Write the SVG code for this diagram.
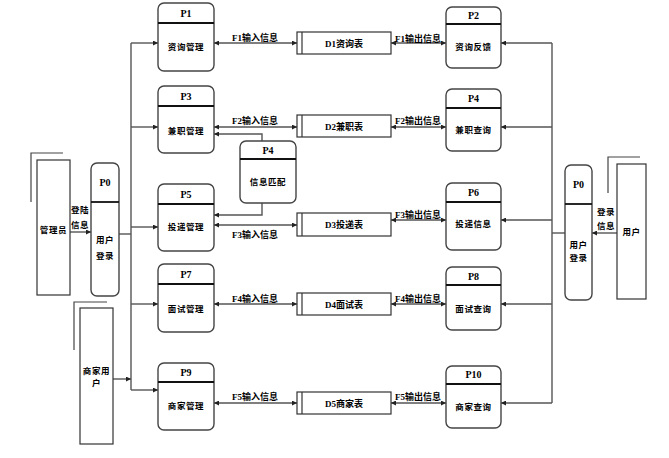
<svg xmlns="http://www.w3.org/2000/svg" width="669" height="458" viewBox="0 0 669 458">
<style>
.bg{fill:#fff}
.proc{fill:#fff;stroke:#444;stroke-width:1.4}
.hdr{stroke:#111;stroke-width:1.8}
.box{fill:#fff;stroke:#333;stroke-width:1.2}
.shadow{fill:none;stroke:#444;stroke-width:1.2}
.ln{fill:none;stroke:#555;stroke-width:1.4}
.pl{font-family:"Liberation Serif","Noto Serif CJK SC",serif;font-weight:bold;font-size:10px;fill:#000;text-anchor:middle}
.t{font-family:"Noto Sans CJK SC",sans-serif;font-weight:bold;font-size:8.5px;fill:#000;text-anchor:middle;letter-spacing:0.6px}
.f{font-family:"Liberation Serif","Noto Sans CJK SC",serif;font-weight:bold;font-size:9px;fill:#000;text-anchor:middle}
</style>
<defs>
<marker id="a" viewBox="0 0 6 6" refX="6" refY="3" markerWidth="5" markerHeight="5" orient="auto-start-reverse" markerUnits="userSpaceOnUse">
<path d="M0,0 L6,3 L0,6 z" fill="#222"/>
</marker>
</defs>
<rect class="bg" x="0" y="0" width="669" height="458"/>

<g id="connectors">
<!-- left trunk -->
<line class="ln" x1="131" y1="43" x2="131" y2="390"/>
<line class="ln" x1="119" y1="234" x2="131" y2="234"/>
<line class="ln" x1="131" y1="43" x2="158" y2="43" marker-end="url(#a)"/>
<line class="ln" x1="131" y1="127" x2="158" y2="127" marker-end="url(#a)"/>
<line class="ln" x1="131" y1="227" x2="158" y2="227" marker-end="url(#a)"/>
<line class="ln" x1="131" y1="304" x2="158" y2="304" marker-end="url(#a)"/>
<line class="ln" x1="131" y1="390" x2="158" y2="390" marker-end="url(#a)"/>
<line class="ln" x1="113" y1="379" x2="131" y2="379" marker-end="url(#a)"/>
<line class="ln" x1="70" y1="232" x2="91" y2="232" marker-end="url(#a)"/>
<!-- right trunk -->
<line class="ln" x1="552" y1="43" x2="552" y2="403"/>
<line class="ln" x1="552" y1="233" x2="565" y2="233"/>
<line class="ln" x1="552" y1="43" x2="501" y2="43" marker-end="url(#a)"/>
<line class="ln" x1="552" y1="127" x2="501" y2="127" marker-end="url(#a)"/>
<line class="ln" x1="552" y1="220" x2="501" y2="220" marker-end="url(#a)"/>
<line class="ln" x1="552" y1="304" x2="501" y2="304" marker-end="url(#a)"/>
<line class="ln" x1="552" y1="403" x2="501" y2="403" marker-end="url(#a)"/>
<line class="ln" x1="617" y1="233" x2="592" y2="233" marker-end="url(#a)"/>
<!-- process <-> store -->
<line class="ln" x1="214" y1="43" x2="297" y2="43" marker-start="url(#a)" marker-end="url(#a)"/>
<line class="ln" x1="391" y1="43" x2="446" y2="43" marker-start="url(#a)" marker-end="url(#a)"/>
<line class="ln" x1="214" y1="127" x2="297" y2="127" marker-start="url(#a)" marker-end="url(#a)"/>
<line class="ln" x1="391" y1="127" x2="446" y2="127" marker-start="url(#a)" marker-end="url(#a)"/>
<line class="ln" x1="214" y1="225" x2="297" y2="225" marker-start="url(#a)" marker-end="url(#a)"/>
<line class="ln" x1="391" y1="220" x2="446" y2="220" marker-start="url(#a)" marker-end="url(#a)"/>
<line class="ln" x1="214" y1="304" x2="297" y2="304" marker-start="url(#a)" marker-end="url(#a)"/>
<line class="ln" x1="391" y1="304" x2="446" y2="304" marker-start="url(#a)" marker-end="url(#a)"/>
<line class="ln" x1="214" y1="403" x2="297" y2="403" marker-start="url(#a)" marker-end="url(#a)"/>
<line class="ln" x1="391" y1="403" x2="446" y2="403" marker-start="url(#a)" marker-end="url(#a)"/>
<!-- P4 matching -->
<polyline class="ln" points="262,141 262,134 214,134" marker-end="url(#a)"/>
<polyline class="ln" points="262,203 262,215 214,215" marker-end="url(#a)"/>
<!-- labels -->
<text class="f" x="255" y="41">F1输入信息</text>
<text class="f" x="418" y="42">F1输出信息</text>
<text class="f" x="255" y="124">F2输入信息</text>
<text class="f" x="418" y="124">F2输出信息</text>
<text class="f" x="255" y="238">F3输入信息</text>
<text class="f" x="418" y="218">F3输出信息</text>
<text class="f" x="255" y="302">F4输入信息</text>
<text class="f" x="418" y="302">F4输出信息</text>
<text class="f" x="255" y="400">F5输入信息</text>
<text class="f" x="418" y="400">F5输出信息</text>
<text class="t" x="80" y="213">登陆</text>
<text class="t" x="80" y="228">信息</text>
<text class="t" x="606" y="215">登录</text>
<text class="t" x="606" y="229">信息</text>
</g>

<g id="admin">
<polyline class="shadow" points="31,202 31,153 63,153"/>
<rect class="box" x="37" y="160" width="33" height="135"/>
<text class="t" x="53.5" y="233">管理员</text>
</g>
<g id="merchant">
<polyline class="shadow" points="74,350 74,302 107,302"/>
<rect class="box" x="80" y="308" width="33" height="136"/>
<text class="t" x="96.5" y="374">商家用</text>
<text class="t" x="96.5" y="386">户</text>
</g>
<g id="user">
<polyline class="shadow" points="608,193 608,157 640,157"/>
<rect class="box" x="617" y="164" width="29" height="135"/>
<text class="t" x="631.5" y="235">用户</text>
</g>

<g id="P0L">
<rect class="proc" x="91" y="163" width="28" height="133" rx="6"/>
<line class="hdr" x1="91" y1="202" x2="119" y2="202"/>
<text class="pl" x="105" y="186">P0</text>
<text class="t" x="105" y="243">用户</text>
<text class="t" x="105" y="259">登录</text>
</g>
<g id="P0R">
<rect class="proc" x="565" y="165" width="27" height="135" rx="6"/>
<line class="hdr" x1="565" y1="204" x2="592" y2="204"/>
<text class="pl" x="578.5" y="188">P0</text>
<text class="t" x="578.5" y="248">用户</text>
<text class="t" x="578.5" y="261">登录</text>
</g>

<g id="P1">
<rect class="proc" x="158" y="3" width="56" height="68" rx="6"/>
<line class="hdr" x1="158" y1="23" x2="214" y2="23"/>
<text class="pl" x="186" y="17">P1</text>
<text class="t" x="186" y="50">资询管理</text>
</g>
<g id="P2">
<rect class="proc" x="446" y="7" width="55" height="61" rx="6"/>
<line class="hdr" x1="446" y1="24" x2="501" y2="24"/>
<text class="pl" x="473.5" y="19">P2</text>
<text class="t" x="473.5" y="50">资询反馈</text>
</g>
<g id="P3">
<rect class="proc" x="158" y="86" width="56" height="67" rx="6"/>
<line class="hdr" x1="158" y1="106" x2="214" y2="106"/>
<text class="pl" x="186" y="100">P3</text>
<text class="t" x="186" y="134">兼职管理</text>
</g>
<g id="P4a">
<rect class="proc" x="446" y="89" width="55" height="62" rx="6"/>
<line class="hdr" x1="446" y1="108" x2="501" y2="108"/>
<text class="pl" x="473.5" y="102">P4</text>
<text class="t" x="473.5" y="133">兼职查询</text>
</g>
<g id="P4b">
<rect class="proc" x="240" y="141" width="56" height="62" rx="6"/>
<line class="hdr" x1="240" y1="159" x2="296" y2="159"/>
<text class="pl" x="268" y="154">P4</text>
<text class="t" x="268" y="185">信息匹配</text>
</g>
<g id="P5">
<rect class="proc" x="158" y="184" width="56" height="67" rx="6"/>
<line class="hdr" x1="158" y1="204" x2="214" y2="204"/>
<text class="pl" x="186" y="198">P5</text>
<text class="t" x="186" y="230">投递管理</text>
</g>
<g id="P6">
<rect class="proc" x="446" y="183" width="55" height="67" rx="6"/>
<line class="hdr" x1="446" y1="202" x2="501" y2="202"/>
<text class="pl" x="473.5" y="196">P6</text>
<text class="t" x="473.5" y="227">投递信息</text>
</g>
<g id="P7">
<rect class="proc" x="158" y="264" width="56" height="68" rx="6"/>
<line class="hdr" x1="158" y1="284" x2="214" y2="284"/>
<text class="pl" x="186" y="278">P7</text>
<text class="t" x="186" y="312">面试管理</text>
</g>
<g id="P8">
<rect class="proc" x="446" y="267" width="55" height="63" rx="6"/>
<line class="hdr" x1="446" y1="285" x2="501" y2="285"/>
<text class="pl" x="473.5" y="280">P8</text>
<text class="t" x="473.5" y="312">面试查询</text>
</g>
<g id="P9">
<rect class="proc" x="158" y="363" width="56" height="67" rx="6"/>
<line class="hdr" x1="158" y1="382" x2="214" y2="382"/>
<text class="pl" x="186" y="376">P9</text>
<text class="t" x="186" y="409">商家管理</text>
</g>
<g id="P10">
<rect class="proc" x="446" y="366" width="55" height="62" rx="6"/>
<line class="hdr" x1="446" y1="384" x2="501" y2="384"/>
<text class="pl" x="473.5" y="378">P10</text>
<text class="t" x="473.5" y="410">商家查询</text>
</g>

<g id="D1">
<rect class="box" x="297" y="32" width="94" height="22"/>
<line class="box" x1="302" y1="32" x2="302" y2="54"/>
<text class="f" x="344" y="46.5">D1资询表</text>
</g>
<g id="D2">
<rect class="box" x="297" y="115" width="94" height="22"/>
<line class="box" x1="302" y1="115" x2="302" y2="137"/>
<text class="f" x="344" y="129.5">D2兼职表</text>
</g>
<g id="D3">
<rect class="box" x="297" y="213" width="94" height="23"/>
<line class="box" x1="302" y1="213" x2="302" y2="236"/>
<text class="f" x="344" y="228">D3投递表</text>
</g>
<g id="D4">
<rect class="box" x="297" y="293" width="94" height="22"/>
<line class="box" x1="302" y1="293" x2="302" y2="315"/>
<text class="f" x="344" y="307.5">D4面试表</text>
</g>
<g id="D5">
<rect class="box" x="297" y="392" width="94" height="22"/>
<line class="box" x1="302" y1="392" x2="302" y2="414"/>
<text class="f" x="344" y="406.5">D5商家表</text>
</g>
</svg>
